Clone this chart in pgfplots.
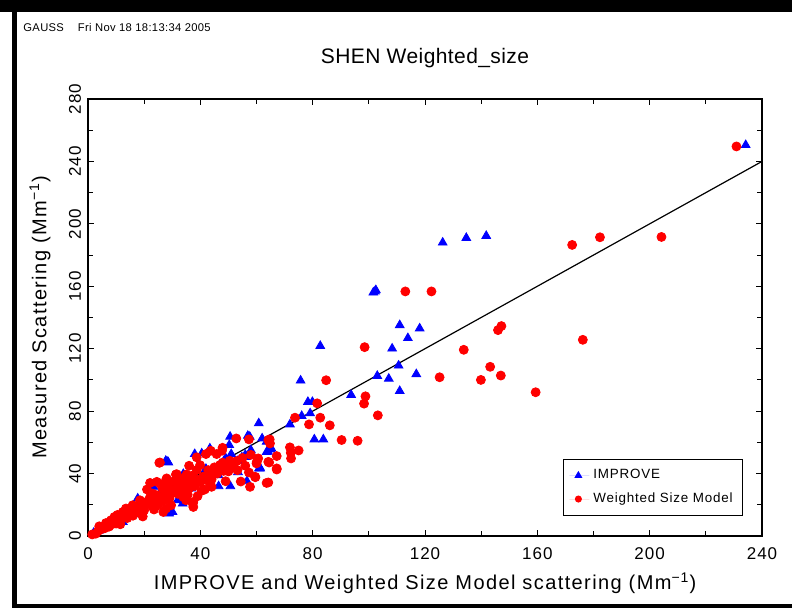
\documentclass[border=0pt]{standalone}
\usepackage{fontspec}
\setmainfont{Liberation Sans}
\usepackage{pgfplots}
\pgfplotsset{compat=1.18}
\usepackage{pgfplotstable}

\pgfplotstableread{
x y
234.2 250.5
141.8 192.3
134.7 191.0
126.3 188.0
102.2 156.7
101.6 156.0
102.5 157.5
111.0 135.1
118.1 133.0
113.9 126.8
82.7 121.8
108.3 120.1
110.6 109.2
103.0 102.6
107.1 100.8
116.9 103.7
111.0 92.9
93.7 90.4
75.7 99.6
78.3 85.9
79.9 85.9
79.1 78.6
76.1 76.9
80.6 61.9
83.8 61.9
60.8 72.2
71.9 71.5
57.6 63.6
56.9 64.2
50.6 63.6
50.3 58.3
65.3 56.1
63.6 53.8
64.1 54.0
65.0 55.5
63.6 60.4
64.6 61.5
56.2 50.7
54.7 48.0
56.0 52.0
54.8 50.4
53.4 48.2
61.2 43.9
60.9 43.3
61.3 43.3
53.4 40.9
56.6 35.1
50.7 31.9
46.5 31.9
46.4 39.0
43.4 56.1
40.5 52.9
38.0 52.5
37.0 36.2
36.9 30.4
34.2 35.1
34.0 39.6
33.9 39.6
33.7 20.8
31.9 22.9
30.1 15.4
29.5 34.0
28.9 14.4
28.6 47.1
28.4 47.5
27.7 48.2
23.3 31.5
17.7 24.0
13.5 13.3
12.4 9.0
7.0 8.0
2.0 2.0
4.0 3.5
5.5 6.5
9.0 9.5
10.0 11.0
11.5 12.0
14.5 15.5
16.0 17.0
18.0 19.5
19.0 14.0
20.5 20.0
22.0 23.0
24.0 21.5
25.5 27.0
27.0 25.5
30.0 31.0
32.0 29.5
35.0 36.0
38.0 39.0
40.0 37.0
42.0 43.0
44.0 41.0
47.0 46.0
49.0 50.0
51.0 52.5
52.0 45.0
58.0 55.0
62.0 62.5
}\improve

\pgfplotstableread{
x y
230.9 249.6
204.2 191.6
182.3 191.4
172.4 186.5
176.2 125.7
159.4 92.1
147.2 134.5
146.0 131.9
147.0 102.8
143.2 108.4
139.9 100.0
133.8 119.3
125.2 101.7
122.3 156.7
113.0 156.7
103.2 77.3
98.5 121.0
98.8 89.5
98.3 84.8
96.0 61.0
90.3 61.5
86.1 70.9
84.8 99.8
82.7 75.8
81.6 85.0
78.7 71.5
73.7 75.8
75.0 54.8
71.9 56.8
72.2 53.3
72.3 49.7
67.2 51.2
67.2 43.3
67.2 42.6
64.7 61.9
64.8 59.3
64.2 61.5
64.5 47.1
64.2 47.5
64.2 34.3
63.6 34.0
60.6 49.7
60.0 46.5
60.1 47.5
59.6 37.7
59.5 37.9
57.3 61.9
57.3 40.7
57.7 31.5
52.8 62.5
54.4 34.9
53.2 42.2
51.0 45.9
50.5 48.2
50.0 41.4
49.0 35.1
48.3 41.7
47.9 56.5
47.7 54.6
45.8 52.5
45.0 41.7
44.0 36.2
44.0 31.5
43.7 54.6
42.8 42.2
42.0 52.5
41.6 29.8
39.9 45.4
39.0 25.5
38.7 50.4
38.7 42.2
37.5 21.8
37.3 20.8
37.5 18.6
36.9 38.5
35.7 36.9
35.1 39.4
34.9 22.9
33.9 25.0
32.2 33.7
31.6 39.6
31.3 39.4
29.6 19.7
29.2 27.2
28.6 31.5
28.0 36.9
27.8 35.8
27.8 17.6
26.8 15.4
26.6 30.4
25.6 47.1
25.4 46.9
24.5 34.7
24.5 26.1
23.0 27.2
22.4 19.7
22.1 34.0
21.0 29.8
20.1 20.8
18.5 22.9
15.9 19.7
13.5 17.6
12.4 15.4
9.4 12.2
8.2 10.1
6.4 8.3
4.0 6.2
2.8 1.5
1.5 1.0
3.5 3.0
5.0 4.5
6.0 5.0
7.5 6.0
8.5 7.5
10.0 8.0
11.0 10.5
12.0 11.0
13.0 12.5
14.0 11.5
15.0 14.0
16.0 13.0
17.0 16.0
18.0 15.0
19.0 18.0
20.0 16.5
21.0 22.0
22.0 24.5
23.0 21.0
24.0 22.5
25.0 20.0
26.0 25.0
27.0 23.0
28.0 26.5
29.0 24.0
30.0 28.0
31.0 30.0
32.0 27.0
33.0 31.0
34.0 29.0
35.0 33.0
36.0 30.5
37.0 34.0
38.0 32.0
39.0 36.0
40.0 34.5
41.0 38.0
42.0 36.0
43.0 40.0
44.0 38.5
45.0 44.0
46.0 40.0
47.0 45.5
48.0 47.0
49.0 43.0
50.0 46.0
52.0 44.0
53.0 48.0
55.0 50.0
56.0 45.0
58.0 52.0
10.5 13.5
11.5 7.5
16.5 18.5
19.5 12.5
23.5 17.0
26.0 33.0
30.5 35.0
33.5 36.5
35.5 26.5
40.5 29.0
43.5 33.5
36.0 45.0
}\wsm

\begin{document}
\begin{tikzpicture}
\path[use as bounding box] (0,0) rectangle (396pt,304pt);
\fill[white] (0,0) rectangle (396pt,304pt);
\fill[black] (6pt,0) rectangle (8.5pt,304pt);
\fill[black] (0,298pt) rectangle (396pt,304pt);
\fill[black] (6pt,0) rectangle (396pt,1.75pt);
\node[anchor=west, inner sep=0pt, font=\fontsize{5.6}{7}\selectfont\addfontfeature{LetterSpace=3}] at (11.5pt,290pt) {GAUSS\hspace{7pt}Fri Nov 18 18:13:34 2005};
\begin{axis}[
  at={(44pt,36pt)}, anchor=south west, scale only axis,
  width=337pt, height=218.5pt,
  xmin=0, xmax=240, ymin=0, ymax=280,
  xtick={0,40,...,240}, ytick={0,40,...,280},
  minor x tick num=1, minor y tick num=1,
  tick align=inside, major tick length=3.2pt, minor tick length=2.4pt,
  axis line style={line width=1pt},
  every tick/.style={black, line width=0.5pt},
  /pgf/number format/assume math mode=true,
  ticklabel style={font=\fontsize{8.5}{10}\selectfont\addfontfeature{LetterSpace=6}},
  yticklabel style={rotate=90, anchor=south},
  xticklabel style={yshift=-2.5pt},
  title={SHEN Weighted\_size},
  title style={font=\fontsize{10.5}{12}\selectfont\addfontfeature{LetterSpace=2}, at={(axis description cs:0.5,1.0663)}, anchor=center},
  xlabel={IMPROVE and Weighted Size Model scattering (Mm\textsuperscript{−1})},
  ylabel={Measured Scattering (Mm\textsuperscript{−1})},
  label style={font=\fontsize{10}{12}\selectfont\addfontfeature{LetterSpace=7}},
  xlabel style={at={(axis description cs:0.5,-0.1076)}, anchor=center},
  ylabel style={at={(axis description cs:-0.0712,0.5)}, anchor=center},
  legend cell align=left,
  legend style={at={(axis description cs:0.972,0.046)}, anchor=south east,
    draw=black, line width=0.5pt, inner xsep=3pt, inner ysep=3pt, row sep=1.5pt,
    font=\fontsize{6.7}{8}\selectfont\addfontfeature{LetterSpace=6}},
  legend image code/.code={\path[draw=none] (-4.5pt,0pt) -- (5.5pt,0pt);
    \draw[mark repeat=2,mark phase=2,#1] plot coordinates {(-4.5pt,0pt) (0pt,0pt) (5.5pt,0pt)};},
]
\addplot[only marks, mark=triangle*, mark size=2.5pt, color=blue, fill=blue,
  legend image post style={mark size=1.8pt}] table {\improve};
\addlegendentry{IMPROVE}
\addplot[only marks, mark=*, mark size=2.25pt, color=red, fill=red,
  legend image post style={mark size=1.5pt}] table {\wsm};
\addlegendentry{Weighted Size Model}
\addplot[black, line width=0.6pt, no marks, forget plot] coordinates {(0,0) (240,240)};
\end{axis}
\end{tikzpicture}
\end{document}
